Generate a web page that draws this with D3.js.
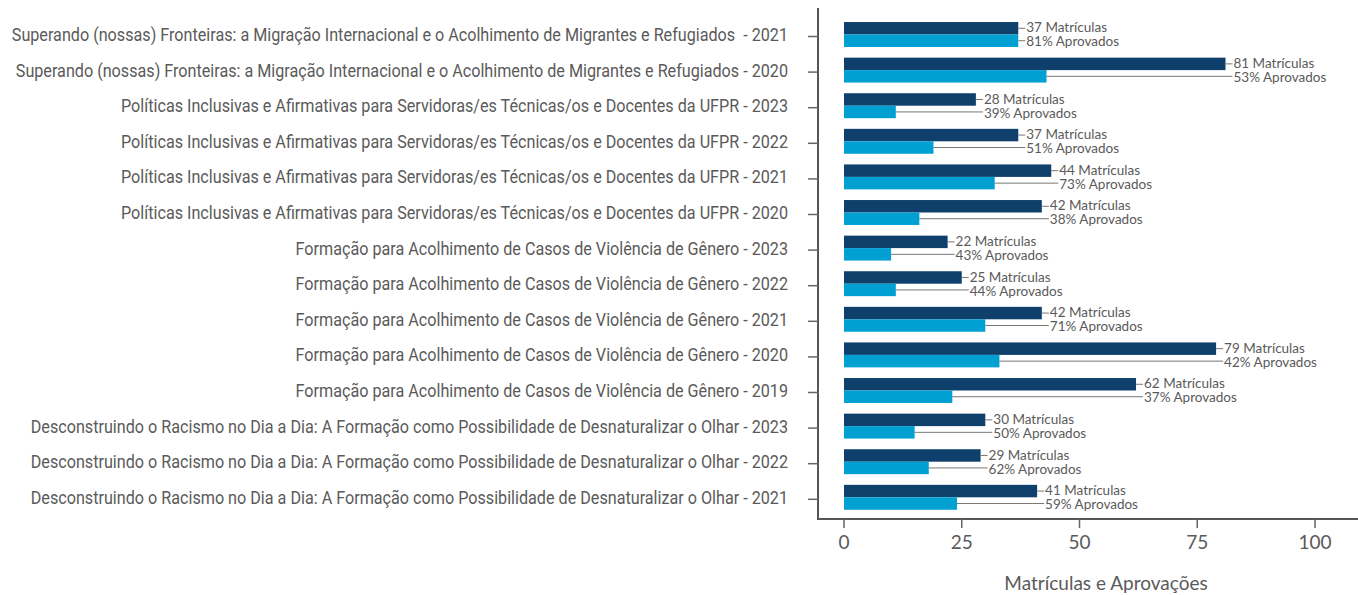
<!DOCTYPE html>
<html>
<head>
<meta charset="utf-8">
<script src="https://cdn.jsdelivr.net/npm/d3@7"></script>
<style>
  body { margin: 0; background: #fff; }
  svg { display: block; }
</style>
</head>
<body>
<div id="chart"></div>
<script>
// dados
var cursos = [
  "Superando (nossas) Fronteiras: a Migração Internacional e o Acolhimento de Migrantes e Refugiados  - 2021",
  "Superando (nossas) Fronteiras: a Migração Internacional e o Acolhimento de Migrantes e Refugiados - 2020",
  "Políticas Inclusivas e Afirmativas para Servidoras/es Técnicas/os e Docentes da UFPR - 2023",
  "Políticas Inclusivas e Afirmativas para Servidoras/es Técnicas/os e Docentes da UFPR - 2022",
  "Políticas Inclusivas e Afirmativas para Servidoras/es Técnicas/os e Docentes da UFPR - 2021",
  "Políticas Inclusivas e Afirmativas para Servidoras/es Técnicas/os e Docentes da UFPR - 2020",
  "Formação para Acolhimento de Casos de Violência de Gênero - 2023",
  "Formação para Acolhimento de Casos de Violência de Gênero - 2022",
  "Formação para Acolhimento de Casos de Violência de Gênero - 2021",
  "Formação para Acolhimento de Casos de Violência de Gênero - 2020",
  "Formação para Acolhimento de Casos de Violência de Gênero - 2019",
  "Desconstruindo o Racismo no Dia a Dia: A Formação como Possibilidade de Desnaturalizar o Olhar - 2023",
  "Desconstruindo o Racismo no Dia a Dia: A Formação como Possibilidade de Desnaturalizar o Olhar - 2022",
  "Desconstruindo o Racismo no Dia a Dia: A Formação como Possibilidade de Desnaturalizar o Olhar - 2021"
];
var matriculas = [37, 81, 28, 37, 44, 42, 22, 25, 42, 79, 62, 30, 29, 41];
var aprovados = [37, 43, 11, 19, 32, 16, 10, 11, 30, 33, 23, 15, 18, 24];
var pctAprovados = [81, 53, 39, 51, 73, 38, 43, 44, 71, 42, 37, 50, 62, 59];
var xTicks = [0, 25, 50, 75, 100];
var tituloX = "Matrículas e Aprovações";

var w = 1358, h = 595;
var corEscura = "#0f3f6b", corClara = "#00a0d3", cinza = "#5a5a5a";
var eixoX0 = 818, eixoY1 = 519;
var fonte = "Lato, 'Open Sans', sans-serif";

var svg = d3.select("#chart").append("svg")
  .attr("width", w)
  .attr("height", h);

var x = d3.scaleLinear().domain([0, 100]).range([844, 1315]);

var y = d3.scaleBand()
  .domain(cursos)
  .range([16.7, 515.1])
  .paddingInner(0.3)
  .paddingOuter(0.15);

var bh = y.bandwidth() / 2;

// barras
var linhas = svg.append("g").selectAll("g")
  .data(cursos)
  .enter().append("g");

linhas.append("rect")
  .attr("x", x(0))
  .attr("y", function(d) { return y(d); })
  .attr("width", function(d, i) { return x(matriculas[i]) - x(0); })
  .attr("height", bh)
  .attr("fill", corEscura);

linhas.append("rect")
  .attr("x", x(0))
  .attr("y", function(d) { return y(d) + bh; })
  .attr("width", function(d, i) { return x(aprovados[i]) - x(0); })
  .attr("height", bh)
  .attr("fill", corClara);

// rótulos com linhas de chamada
function xRotulo(i) { return x(matriculas[i]) + 8; }

linhas.append("line")
  .attr("x1", function(d, i) { return x(matriculas[i]); })
  .attr("x2", function(d, i) { return xRotulo(i) - 1; })
  .attr("y1", function(d) { return y(d) + bh / 2; })
  .attr("y2", function(d) { return y(d) + bh / 2; })
  .attr("stroke", "#777")
  .attr("stroke-width", 1);

linhas.append("line")
  .attr("x1", function(d, i) { return x(aprovados[i]); })
  .attr("x2", function(d, i) { return xRotulo(i) - 1; })
  .attr("y1", function(d) { return y(d) + bh * 1.5; })
  .attr("y2", function(d) { return y(d) + bh * 1.5; })
  .attr("stroke", "#777")
  .attr("stroke-width", 1);

linhas.append("text")
  .attr("x", function(d, i) { return xRotulo(i); })
  .attr("y", function(d) { return y(d) + bh / 2 - 0.5; })
  .attr("dy", "0.35em")
  .attr("font-family", fonte)
  .attr("font-size", 13.5)
  .attr("fill", cinza)
  .text(function(d, i) { return matriculas[i] + " Matrículas"; });

linhas.append("text")
  .attr("x", function(d, i) { return xRotulo(i); })
  .attr("y", function(d) { return y(d) + bh * 1.5 + 1; })
  .attr("dy", "0.35em")
  .attr("font-family", fonte)
  .attr("font-size", 13.5)
  .attr("fill", cinza)
  .text(function(d, i) { return pctAprovados[i] + "% Aprovados"; });

// eixo y
svg.append("line")
  .attr("x1", eixoX0).attr("x2", eixoX0)
  .attr("y1", 8).attr("y2", eixoY1)
  .attr("stroke", "#555").attr("stroke-width", 2);

svg.append("g").selectAll("line")
  .data(cursos)
  .enter().append("line")
  .attr("x1", eixoX0 - 10).attr("x2", eixoX0)
  .attr("y1", function(d) { return y(d) + y.bandwidth() / 2 + 2; })
  .attr("y2", function(d) { return y(d) + y.bandwidth() / 2 + 2; })
  .attr("stroke", "#666").attr("stroke-width", 1.5);

// rótulos das categorias: fonte estreitada horizontalmente
var gCat = svg.append("g");
var cat = gCat.selectAll("text")
  .data(cursos)
  .enter().append("text")
  .attr("x", 0)
  .attr("y", function(d) { return y(d) + y.bandwidth() / 2; })
  .attr("dy", "0.35em")
  .attr("text-anchor", "end")
  .attr("font-family", "Roboto, 'Noto Sans', sans-serif")
  .attr("font-size", 18.5)
  .attr("fill", cinza)
  .style("white-space", "pre")
  .text(function(d) { return d; });

var larguraMax = d3.max(cat.nodes(), function(n) { return n.getComputedTextLength(); });
var escala = 777 / larguraMax;
gCat.attr("transform", "translate(788,0) scale(" + escala + ",1)");

// eixo x
svg.append("line")
  .attr("x1", eixoX0 - 1).attr("x2", w)
  .attr("y1", eixoY1).attr("y2", eixoY1)
  .attr("stroke", "#555").attr("stroke-width", 2);

var gx = svg.append("g").attr("transform", "translate(0," + eixoY1 + ")");

gx.selectAll("line")
  .data(xTicks)
  .enter().append("line")
  .attr("x1", function(d) { return x(d); })
  .attr("x2", function(d) { return x(d); })
  .attr("y1", 0).attr("y2", 9)
  .attr("stroke", "#666").attr("stroke-width", 1.5);

gx.selectAll("text")
  .data(xTicks)
  .enter().append("text")
  .attr("x", function(d) { return x(d); })
  .attr("y", 30)
  .attr("text-anchor", "middle")
  .attr("font-family", fonte)
  .attr("font-size", 19)
  .attr("fill", cinza)
  .text(function(d) { return d; });

svg.append("text")
  .attr("x", 1106)
  .attr("y", 590)
  .attr("text-anchor", "middle")
  .attr("font-family", fonte)
  .attr("font-size", 19)
  .attr("fill", cinza)
  .text(tituloX);
</script>
</body>
</html>
